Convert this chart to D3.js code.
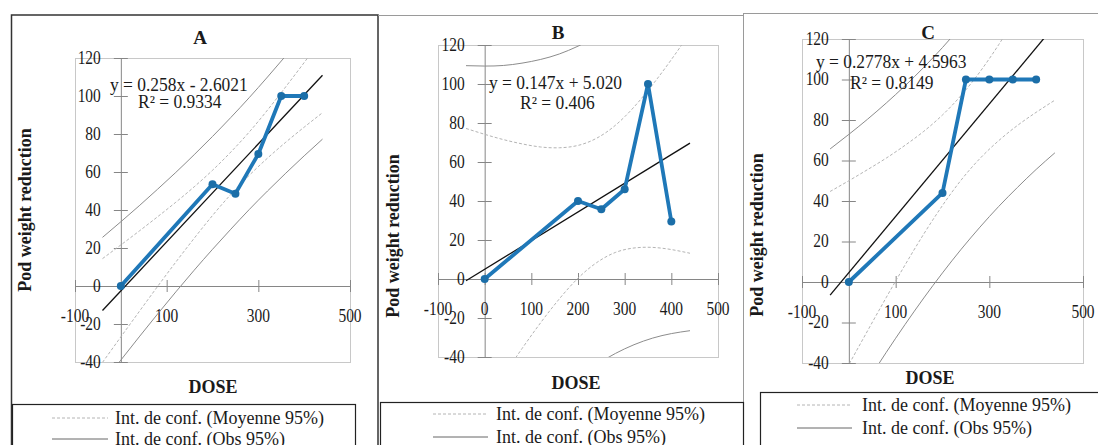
<!DOCTYPE html>
<meta charset="utf-8">
<head>
<title>Pod weight reduction vs DOSE</title>
<script src="https://cdn.jsdelivr.net/npm/d3@7"></script>
<style>
  body { margin: 0; background: #fff; }
  text { font-family: "Liberation Serif", "Times New Roman", serif; fill: #1a1a1a; }
</style>
</head>
<body>
<div id="chart"></div>
<script>
// observed points (same doses in all three panels)
var doses = [0, 200, 250, 300, 350, 400];
var reductionA = [0, 53.5, 48.6, 69.5, 100, 100];
var reductionB = [0, 40, 35.8, 46, 100, 29.5];
var reductionC = [0, 44, 100, 100, 100, 100];

// trend line ends
var fitX = [-40, 440];
var fitA = [-12.9, 110.9];
var fitB = [-0.9, 69.7];
var fitC = [-6.5, 126.8];

// confidence bands, read at these doses
var bandX = [-40, 0, 40, 80, 120, 160, 200, 240, 280, 320, 360, 400, 440];
var meanHiA = [14.4, 21.6, 28.9, 36.4, 44.1, 52.2, 60.9, 70.5, 81.0, 92.6, 104.9, 117.6, 130.7];
var meanLoA = [-40.2, -26.8, -13.5, -0.3, 12.6, 25.1, 37.1, 48.2, 58.2, 67.3, 75.7, 83.6, 91.2];
var obsHiA = [25.6, 33.8, 42.2, 50.9, 59.8, 69.1, 78.7, 88.7, 99.1, 110.0, 121.2, 132.7, 144.5];
var obsLoA = [-51.5, -39.0, -26.8, -14.8, -3.1, 8.3, 19.3, 29.9, 40.2, 50.0, 59.4, 68.5, 77.3];
var meanHiB = [77.2, 74.2, 71.5, 69.3, 67.7, 67.3, 68.5, 72.2, 78.8, 88.2, 99.7, 112.5, 126.2];
var meanLoB = [-79.0, -64.2, -49.7, -35.7, -22.4, -10.2, 0.4, 8.4, 13.6, 15.9, 16.2, 15.1, 13.2];
var obsHiB = [109.4, 109.2, 109.5, 110.7, 112.6, 115.4, 119.4, 124.4, 130.5, 137.8, 146.2, 155.6, 165.9];
var obsLoB = [-111.1, -99.1, -87.7, -77.1, -67.3, -58.4, -50.5, -43.8, -38.2, -33.7, -30.3, -28.0, -26.5];
var meanHiC = [44.7, 50.0, 55.5, 61.2, 67.5, 74.4, 82.5, 92.2, 103.8, 117.2, 132.0, 147.6, 163.9];
var meanLoC = [-57.7, -40.8, -24.1, -7.6, 8.4, 23.7, 37.8, 50.4, 61.0, 69.8, 77.3, 83.8, 89.8];
var obsHiC = [65.7, 72.9, 80.4, 88.4, 96.9, 106.0, 115.8, 126.4, 137.7, 149.7, 162.5, 175.9, 189.9];
var obsLoC = [-78.8, -63.7, -49.0, -34.7, -21.0, -7.9, 4.5, 16.2, 27.1, 37.3, 46.7, 55.6, 63.8];

var yTicks = [-40, -20, 0, 20, 40, 60, 80, 100, 120];
var xTicksWide = [-100, 100, 300, 500];
var xTicksFine = [-100, 0, 100, 200, 300, 400, 500];
var equations = [
  ["y = 0.258x - 2.6021", "R² = 0.9334"],
  ["y = 0.147x + 5.020", "R² = 0.406"],
  ["y = 0.2778x + 4.5963", "R² = 0.8149"]
];
var legendLabels = ["Int. de conf. (Moyenne 95%)", "Int. de conf. (Obs 95%)"];

var blue = "#1f78b8";

var panels = [
  { name: "A", y: reductionA, fit: fitA, bands: [meanHiA, meanLoA, obsHiA, obsLoA], xTicks: xTicksWide, eq: equations[0],
    box: [75, 350, 58, 362], title: [200, 37], yTitle: [25, 210], xTitle: [213, 387],
    eqPos: [[110, 85], [138, 102]], leg: [52, 108, 115, 418, 439] },
  { name: "B", y: reductionB, fit: fitB, bands: [meanHiB, meanLoB, obsHiB, obsLoB], xTicks: xTicksFine, eq: equations[1],
    box: [438, 718, 45, 357], title: [558, 32], yTitle: [393, 236], xTitle: [576, 383],
    eqPos: [[489, 83], [520, 103]], leg: [433, 488, 496, 414, 437] },
  { name: "C", y: reductionC, fit: fitC, bands: [meanHiC, meanLoC, obsHiC, obsLoC], xTicks: xTicksWide, eq: equations[2],
    box: [802, 1083, 39, 363], title: [928, 32], yTitle: [757, 235], xTitle: [930, 378],
    eqPos: [[816, 62], [850, 83]], leg: [797, 852, 862, 405, 428] }
];

var svg = d3.select("#chart").append("svg")
  .attr("width", 1098)
  .attr("height", 445);

// frames round the three figures
svg.append("rect").attr("x", 11.5).attr("y", 15).attr("width", 366.5).attr("height", 440)
  .attr("fill", "none").attr("stroke", "#333").attr("stroke-width", 1.5);
svg.append("line").attr("x1", 378).attr("x2", 743).attr("y1", 15.5).attr("y2", 15.5).attr("stroke", "#9a9a9a");
svg.append("line").attr("x1", 743.5).attr("x2", 743.5).attr("y1", 13).attr("y2", 445).attr("stroke", "#9a9a9a");
svg.append("line").attr("x1", 743).attr("x2", 1098).attr("y1", 13.5).attr("y2", 13.5).attr("stroke", "#9a9a9a");
// legend boxes
svg.append("rect").attr("x", 12.5).attr("y", 404.5).attr("width", 343).attr("height", 60)
  .attr("fill", "none").attr("stroke", "#222").attr("stroke-width", 1.2);
svg.append("rect").attr("x", 380.5).attr("y", 402.5).attr("width", 363).attr("height", 60)
  .attr("fill", "none").attr("stroke", "#222").attr("stroke-width", 1.2);
svg.append("rect").attr("x", 760.5).attr("y", 392.5).attr("width", 345).attr("height", 60)
  .attr("fill", "none").attr("stroke", "#222").attr("stroke-width", 1.2);

function label(g, x, y, str, size, anchor, sx, bold) {
  return g.append("text")
    .attr("transform", "translate(" + x + "," + y + ") scale(" + sx + ",1)")
    .attr("text-anchor", anchor)
    .attr("dominant-baseline", "central")
    .style("font-size", size + "px")
    .style("font-weight", bold ? "bold" : "normal")
    .text(str);
}

panels.forEach(function(p, i) {
  var g = svg.append("g");
  var x = d3.scaleLinear().domain([-100, 500]).range([p.box[0], p.box[1]]);
  var y = d3.scaleLinear().domain([-40, 120]).range([p.box[3], p.box[2]]);

  // plot area
  g.append("rect")
    .attr("x", x(-100) + 0.5).attr("y", y(120) + 0.5)
    .attr("width", x(500) - x(-100)).attr("height", y(-40) - y(120))
    .attr("fill", "none").attr("stroke", "#c8c8c8");

  g.append("clipPath").attr("id", "clip" + i)
    .append("rect")
    .attr("x", x(-100)).attr("y", y(120))
    .attr("width", x(500) - x(-100)).attr("height", y(-40) - y(120));

  // axes crossing at zero, ticks crossing the line
  var xAxis = g.append("g").attr("transform", "translate(0," + y(0) + ")")
    .call(d3.axisBottom(x).tickValues(p.xTicks).tickSize(6).tickSizeOuter(0).tickFormat(""));
  xAxis.selectAll("line").attr("y1", -6);
  var yAxis = g.append("g").attr("transform", "translate(" + x(0) + ",0)")
    .call(d3.axisLeft(y).tickValues(yTicks).tickSize(7).tickSizeOuter(0).tickFormat(""));
  yAxis.selectAll("line").attr("x1", 7);
  g.selectAll(".domain, .tick line").attr("stroke", "#868686");

  yTicks.forEach(function(t) {
    label(g, x(0) - 20, y(t), t, 18, "end", 0.86, false);
  });
  p.xTicks.forEach(function(t) {
    label(g, x(t), y(0) + 30, t, 18, "middle", 0.86, false);
  });

  var plot = g.append("g").attr("clip-path", "url(#clip" + i + ")");
  var band = d3.line().curve(d3.curveNatural)
    .x(function(d, k) { return x(bandX[k]); })
    .y(function(d) { return y(d); });

  [p.bands[0], p.bands[1]].forEach(function(b) {
    plot.append("path").attr("d", band(b)).attr("fill", "none")
      .attr("stroke", "#b4b4b4").attr("stroke-width", 1).attr("stroke-dasharray", "3,2");
  });
  [p.bands[2], p.bands[3]].forEach(function(b) {
    plot.append("path").attr("d", band(b)).attr("fill", "none")
      .attr("stroke", "#8c8c8c").attr("stroke-width", 1);
  });

  plot.append("path")
    .attr("d", d3.line().x(function(d, k) { return x(fitX[k]); }).y(function(d) { return y(d); })(p.fit))
    .attr("fill", "none").attr("stroke", "#111").attr("stroke-width", 1.3);

  var obs = d3.line().x(function(d, k) { return x(doses[k]); }).y(function(d) { return y(d); });
  plot.append("path").attr("d", obs(p.y)).attr("fill", "none")
    .attr("stroke", blue).attr("stroke-width", 3.8).attr("stroke-linejoin", "round");
  plot.selectAll("circle").data(p.y).enter().append("circle")
    .attr("cx", function(d, k) { return x(doses[k]); })
    .attr("cy", function(d) { return y(d); })
    .attr("r", 4).attr("fill", "#1b6ea8");

  // equation
  label(g, p.eqPos[0][0], p.eqPos[0][1], p.eq[0], 18, "start", 0.97, false);
  label(g, p.eqPos[1][0], p.eqPos[1][1], p.eq[1], 18, "start", 0.97, false);

  // titles
  label(g, p.title[0], p.title[1], p.name, 19, "middle", 1, true);
  label(g, p.xTitle[0], p.xTitle[1], "DOSE", 18, "middle", 1, true);
  g.append("text")
    .attr("transform", "translate(" + p.yTitle[0] + "," + p.yTitle[1] + ") rotate(-90)")
    .attr("text-anchor", "middle").attr("dominant-baseline", "central")
    .style("font-size", "18px").style("font-weight", "bold")
    .text("Pod weight reduction");

  // legend
  var L = p.leg;
  g.append("line").attr("x1", L[0]).attr("x2", L[1]).attr("y1", L[3]).attr("y2", L[3])
    .attr("stroke", "#b4b4b4").attr("stroke-dasharray", "3,2");
  g.append("line").attr("x1", L[0]).attr("x2", L[1]).attr("y1", L[4]).attr("y2", L[4])
    .attr("stroke", "#666");
  label(g, L[2], L[3], legendLabels[0], 18, "start", 1, false);
  label(g, L[2], L[4], legendLabels[1], 18, "start", 1, false);
});
</script>
</body>
</html>
